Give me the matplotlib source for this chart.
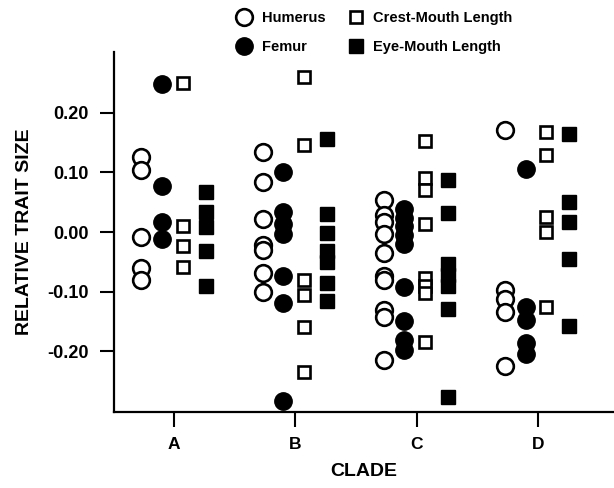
import numpy as np
import matplotlib.pyplot as plt

plt.rcParams['font.family'] = ['Liberation Sans', 'DejaVu Sans']
plt.rcParams['axes.unicode_minus'] = False

clades = ['A', 'B', 'C', 'D']

# relative trait sizes per clade
humerus = [
    [0.126, 0.104, -0.008, -0.061, -0.081],
    [0.135, 0.084, 0.022, -0.022, -0.030, -0.069, -0.101],
    [0.053, 0.028, 0.017, -0.003, -0.036, -0.073, -0.081, -0.131, -0.143, -0.215],
    [0.171, -0.098, -0.112, -0.134, -0.225],
]
femur = [
    [0.249, 0.077, 0.017, -0.011],
    [0.100, 0.033, 0.014, -0.003, -0.074, -0.120, -0.284],
    [0.038, 0.024, 0.010, -0.005, -0.020, -0.092, -0.150, -0.182, -0.198],
    [0.106, -0.126, -0.148, -0.187, -0.204],
]
crest_mouth = [
    [0.250, 0.010, -0.023, -0.059],
    [0.260, 0.147, -0.081, -0.106, -0.160, -0.235],
    [0.153, 0.090, 0.070, 0.014, -0.077, -0.091, -0.102, -0.185],
    [0.168, 0.129, 0.025, 0.000, -0.126],
]
eye_mouth = [
    [0.067, 0.034, 0.008, -0.031, -0.091],
    [0.156, 0.031, -0.001, -0.031, -0.050, -0.085, -0.115],
    [0.087, 0.032, -0.053, -0.072, -0.090, -0.129, -0.277],
    [0.165, 0.050, 0.017, -0.046, -0.158],
]

yticks = [-0.20, -0.10, 0.00, 0.10, 0.20]
ytick_labels = ['-0.20', '-0.10', '0.00', '0.10', '0.20']

fig = plt.figure(figsize=(6.14, 4.88), dpi=100)
ax = fig.add_axes([0.185, 0.156, 0.815, 0.737])

series = [
    ('Humerus', humerus, -0.27, dict(marker='o', ms=12, mfc='white', mec='black', mew=1.9)),
    ('Femur', femur, -0.10, dict(marker='o', ms=12.5, mfc='black', mec='black', mew=1.0)),
    ('Crest-Mouth Length', crest_mouth, 0.07, dict(marker='s', ms=9, mfc='white', mec='black', mew=1.9)),
    ('Eye-Mouth Length', eye_mouth, 0.26, dict(marker='s', ms=9.5, mfc='black', mec='black', mew=1.0)),
]

handles = []
for name, data, off, style in series:
    for i, vals in enumerate(data):
        x = np.full(len(vals), i + 1 + off)
        ax.plot(x, vals, linestyle='none', **style)
    handles.append(plt.Line2D([], [], linestyle='none', label=name, **style))

ax.set_xlim(0.5, 4.63)
ax.set_ylim(-0.302, 0.302)
ax.set_xticks(range(1, len(clades) + 1))
ax.set_xticklabels(clades, fontsize=12.5, fontweight='bold')
ax.set_yticks(yticks)
ax.set_yticklabels(ytick_labels, fontsize=13, fontweight='bold')
ax.tick_params(axis='x', length=11, width=1.5, pad=7)
ax.tick_params(axis='y', length=10, width=1.5, pad=8)

for s in ['top', 'right']:
    ax.spines[s].set_visible(False)
for s in ['left', 'bottom']:
    ax.spines[s].set_linewidth(1.6)

ax.set_xlabel('CLADE', fontsize=14, fontweight='bold', labelpad=8)
ax.set_ylabel('RELATIVE TRAIT SIZE', fontsize=14, fontweight='bold', labelpad=10)

fig.legend(handles=handles, ncol=2, loc='upper left', bbox_to_anchor=(0.362, 1.005),
           frameon=False, prop={'weight': 'bold', 'size': 10.5},
           handletextpad=0.6, columnspacing=1.5, labelspacing=1.05, handlelength=1.2)

fig.savefig('out.png', dpi=100)
